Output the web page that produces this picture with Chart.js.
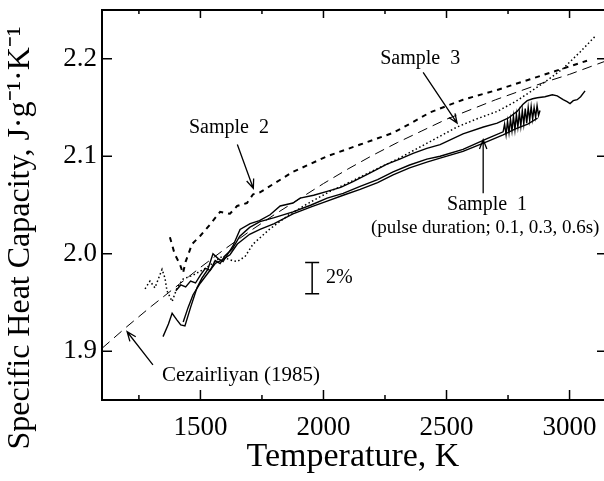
<!DOCTYPE html>
<html>
<head>
<meta charset="utf-8">
<script src="https://cdn.jsdelivr.net/npm/chart.js@4.4.1/dist/chart.umd.min.js"></script>
<style>
  html, body { margin: 0; padding: 0; background: #fff; }
  #wrap { width: 604px; height: 481px; }
</style>
</head>
<body>
<div id="wrap"><canvas id="cp-chart"></canvas></div>
<script>
// axis ticks
const xTicks = [1250, 1500, 1750, 2000, 2250, 2500, 2750, 3000];
const xLabels = [1500, 2000, 2500, 3000];
const yTicks = [1.9, 2.0, 2.1, 2.2];

// Cezairliyan (1985) reference curve
const cezTemp = [1100, 1200, 1300, 1400, 1500, 1600, 1700, 1800, 1900, 2000, 2100, 2200, 2300, 2400, 2500, 2600, 2700, 2800, 2900, 3000, 3140];
const cezCp   = [1.903, 1.925, 1.946, 1.966, 1.986, 2.005, 2.023, 2.040, 2.056, 2.072, 2.087, 2.101, 2.114, 2.126, 2.138, 2.148, 2.158, 2.167, 2.176, 2.184, 2.197];

// Sample 2 (dashed)
const s2Temp = [1376, 1395, 1417, 1429, 1440, 1466, 1498, 1539, 1580, 1620, 1649, 1689, 1714, 1742, 1876, 2015, 2149, 2283, 2364, 2433, 2567, 2706, 2840, 2974, 3071];
const s2Cp   = [2.017, 2.000, 1.989, 1.980, 1.992, 2.010, 2.018, 2.030, 2.043, 2.041, 2.049, 2.052, 2.061, 2.063, 2.084, 2.100, 2.112, 2.124, 2.135, 2.145, 2.158, 2.168, 2.179, 2.190, 2.198];

// Sample 3 (dotted)
const s3Temp = [1275, 1295, 1315, 1344, 1356, 1364, 1385, 1405, 1429, 1470, 1520, 1560, 1592, 1608, 1630, 1649, 1681, 1714, 1780, 1860, 1940, 2027, 2120, 2200, 2300, 2433, 2543, 2620, 2706, 2780, 2840, 2910, 2974, 3043, 3104];
const s3Cp   = [1.964, 1.972, 1.965, 1.984, 1.975, 1.962, 1.951, 1.965, 1.974, 1.978, 1.985, 1.992, 1.998, 1.995, 1.993, 1.992, 1.997, 2.010, 2.025, 2.040, 2.052, 2.064, 2.075, 2.085, 2.097, 2.115, 2.130, 2.138, 2.146, 2.156, 2.166, 2.178, 2.190, 2.207, 2.223];

// Sample 1, pulse duration 0.1 s
const s1aTemp = [1348, 1370, 1385, 1405, 1420, 1437, 1460, 1486, 1506, 1530, 1551, 1572, 1592, 1612, 1632, 1661, 1702, 1740, 1783, 1824, 1876, 1905, 1960, 2015, 2070, 2120, 2190, 2258, 2310, 2364, 2420, 2474, 2567, 2650, 2706, 2750, 2787, 2810, 2828, 2850, 2869, 2900, 2930, 2950, 2974, 2990, 3002, 3015, 3031, 3045, 3063];
const s1aCp   = [1.915, 1.928, 1.939, 1.932, 1.927, 1.926, 1.945, 1.965, 1.975, 1.984, 2.000, 1.995, 1.992, 2.000, 2.008, 2.025, 2.031, 2.034, 2.040, 2.049, 2.052, 2.057, 2.060, 2.064, 2.068, 2.074, 2.083, 2.092, 2.097, 2.103, 2.108, 2.112, 2.123, 2.130, 2.134, 2.139, 2.146, 2.153, 2.157, 2.159, 2.160, 2.161, 2.163, 2.162, 2.158, 2.156, 2.154, 2.157, 2.158, 2.161, 2.167];

// Sample 1, pulse duration 0.3 s (noisy at the top end)
const s1bTemp = [1400, 1420, 1440, 1460, 1480, 1500, 1520, 1540, 1560, 1580, 1600, 1630, 1660, 1700, 1742, 1800, 1876, 1950, 2015, 2080, 2149, 2220, 2283, 2350, 2420, 2474, 2567, 2665, 2730,
                 2736, 2742, 2748, 2754, 2760, 2766, 2772, 2778, 2784, 2790, 2796, 2802, 2808, 2814, 2820, 2826, 2832, 2838, 2844, 2850, 2856, 2862, 2868, 2874, 2880];
const s1bCp   = [1.962, 1.968, 1.966, 1.972, 1.970, 1.978, 1.985, 1.983, 1.993, 1.990, 1.998, 2.005, 2.018, 2.027, 2.033, 2.037, 2.043, 2.050, 2.057, 2.062, 2.069, 2.076, 2.084, 2.091, 2.097, 2.100, 2.107, 2.118, 2.125,
                 2.133, 2.122, 2.136, 2.124, 2.138, 2.126, 2.141, 2.127, 2.143, 2.130, 2.145, 2.131, 2.147, 2.133, 2.149, 2.134, 2.150, 2.137, 2.151, 2.138, 2.150, 2.140, 2.152, 2.142, 2.147];

// Sample 1, pulse duration 0.6 s
const s1cTemp = [1430, 1450, 1470, 1500, 1530, 1560, 1590, 1620, 1650, 1700, 1742, 1800, 1876, 1950, 2015, 2080, 2149, 2220, 2283, 2350, 2420, 2474, 2567, 2665, 2730, 2780, 2830, 2870];
const s1cCp   = [1.930, 1.945, 1.958, 1.970, 1.980, 1.990, 1.994, 1.999, 2.010, 2.020, 2.025, 2.031, 2.041, 2.048, 2.054, 2.060, 2.066, 2.073, 2.081, 2.088, 2.094, 2.098, 2.105, 2.115, 2.122, 2.128, 2.133, 2.139];

const serif = "'Liberation Serif', 'Times New Roman', serif";

function pts(xs, ys) {
    return xs.map((x, i) => ({ x: x, y: ys[i] }));
}

function line(data, dash, width) {
    return {
        data: data,
        borderColor: '#000',
        borderWidth: width,
        borderDash: dash,
        pointRadius: 0,
        tension: 0,
        fill: false
    };
}

function noPad(s) {
    s.paddingTop = 0;
    s.paddingBottom = 0;
    s.paddingLeft = 0;
    s.paddingRight = 0;
}

// labels and arrows, placed in data units (K, J/g/K)
const notes = [
    { text: 'Sample  2', t: 1616, cp: 2.129, size: 20 },
    { text: 'Sample  3', t: 2393, cp: 2.200, size: 20 },
    { text: 'Sample  1', t: 2665, cp: 2.050, size: 20 },
    { text: '(pulse duration; 0.1, 0.3, 0.6s)', t: 2657, cp: 2.026, size: 19 },
    { text: 'Cezairliyan (1985)', t: 1665, cp: 1.875, size: 21 },
    { text: '2%', t: 2010, cp: 1.975, size: 20, align: 'left' }
];
const arrows = [
    { from: [1650, 2.112], to: [1715, 2.067] },
    { from: [2405, 2.186], to: [2543, 2.134] },
    { from: [2649, 2.062], to: [2649, 2.117] },
    { from: [1307, 1.886], to: [1202, 1.920] }
];
const scaleBar = { t: 1954, lo: 1.959, hi: 1.991 };
const yTitle = 'Specific Heat Capacity, J·g⁻¹·K⁻¹';

const framePlugin = {
    id: 'frame',
    afterDraw(chart) {
        const { ctx, chartArea: a, scales: { x, y } } = chart;
        ctx.save();
        ctx.strokeStyle = '#000';
        ctx.lineWidth = 2;
        ctx.beginPath();
        ctx.moveTo(a.right + 2, a.top);
        ctx.lineTo(a.left, a.top);
        ctx.lineTo(a.left, a.bottom);
        ctx.lineTo(a.right + 2, a.bottom);
        ctx.stroke();

        // inward ticks
        ctx.lineWidth = 1.5;
        ctx.beginPath();
        xTicks.forEach(v => {
            const px = x.getPixelForValue(v);
            const major = xLabels.includes(v);
            ctx.moveTo(px, a.bottom);
            ctx.lineTo(px, a.bottom - (major ? 10 : 5));
            ctx.moveTo(px, a.top);
            ctx.lineTo(px, a.top + (major ? 8 : 4));
        });
        yTicks.forEach(v => {
            const py = y.getPixelForValue(v);
            ctx.moveTo(a.left, py);
            ctx.lineTo(a.left + 10, py);
            ctx.moveTo(a.right, py);
            ctx.lineTo(a.right - 7, py);
        });
        ctx.stroke();

        // 2% bar
        const bx = x.getPixelForValue(scaleBar.t);
        const by1 = y.getPixelForValue(scaleBar.hi);
        const by2 = y.getPixelForValue(scaleBar.lo);
        ctx.beginPath();
        ctx.moveTo(bx, by1); ctx.lineTo(bx, by2);
        ctx.moveTo(bx - 7, by1); ctx.lineTo(bx + 7, by1);
        ctx.moveTo(bx - 7, by2); ctx.lineTo(bx + 7, by2);
        ctx.stroke();

        // arrows
        ctx.lineWidth = 1.3;
        arrows.forEach(ar => {
            const x1 = x.getPixelForValue(ar.from[0]), y1 = y.getPixelForValue(ar.from[1]);
            const x2 = x.getPixelForValue(ar.to[0]), y2 = y.getPixelForValue(ar.to[1]);
            const ang = Math.atan2(y2 - y1, x2 - x1);
            const h = 10, spread = 0.38;
            ctx.beginPath();
            ctx.moveTo(x1, y1); ctx.lineTo(x2, y2);
            ctx.moveTo(x2 - h * Math.cos(ang - spread), y2 - h * Math.sin(ang - spread));
            ctx.lineTo(x2, y2);
            ctx.lineTo(x2 - h * Math.cos(ang + spread), y2 - h * Math.sin(ang + spread));
            ctx.stroke();
        });

        // text notes
        ctx.fillStyle = '#000';
        ctx.textBaseline = 'middle';
        notes.forEach(n => {
            ctx.font = n.size + 'px ' + serif;
            ctx.textAlign = n.align || 'center';
            ctx.fillText(n.text, x.getPixelForValue(n.t), y.getPixelForValue(n.cp));
        });

        // y axis title, sits a little below the plot centre in the original
        ctx.translate(21, 238);
        ctx.rotate(-Math.PI / 2);
        ctx.font = '32px ' + serif;
        ctx.textAlign = 'center';
        ctx.fillText(yTitle, 0, 0);
        ctx.restore();
    }
};

new Chart(document.getElementById('cp-chart'), {
    type: 'line',
    data: {
        datasets: [
            line(pts(cezTemp, cezCp), [10, 6], 1),
            line(pts(s2Temp, s2Cp), [5, 5], 2),
            line(pts(s3Temp, s3Cp), [1.5, 2.5], 1.5),
            line(pts(s1aTemp, s1aCp), [], 1.4),
            line(pts(s1bTemp, s1bCp), [], 1.4),
            line(pts(s1cTemp, s1cCp), [], 1.4)
        ]
    },
    options: {
        responsive: true,
        maintainAspectRatio: false,
        animation: false,
        layout: { padding: { top: 10, right: 0, left: 0, bottom: 0 } },
        plugins: {
            legend: { display: false },
            tooltip: { enabled: false }
        },
        scales: {
            x: {
                type: 'linear',
                min: 1100,
                max: 3140,
                grid: { display: false, drawTicks: false },
                border: { display: false },
                afterBuildTicks: s => { s.ticks = xTicks.map(v => ({ value: v })); },
                afterFit: s => { s.height = 81; noPad(s); },
                ticks: {
                    padding: 12,
                    color: '#000',
                    maxRotation: 0,
                    autoSkip: false,
                    font: { family: serif, size: 27 },
                    callback: v => xLabels.includes(v) ? String(v) : ''
                },
                title: {
                    display: true,
                    text: 'Temperature, K',
                    color: '#000',
                    font: { family: serif, size: 34 },
                    padding: { top: 0, bottom: 4 }
                }
            },
            y: {
                type: 'linear',
                min: 1.85,
                max: 2.25,
                grid: { display: false, drawTicks: false },
                border: { display: false },
                afterBuildTicks: s => { s.ticks = yTicks.map(v => ({ value: v })); },
                afterFit: s => { s.width = 102; noPad(s); },
                ticks: {
                    padding: 5,
                    color: '#000',
                    font: { family: serif, size: 27 },
                    callback: v => v.toFixed(1)
                }
            }
        }
    },
    plugins: [framePlugin]
});
</script>
</body>
</html>
